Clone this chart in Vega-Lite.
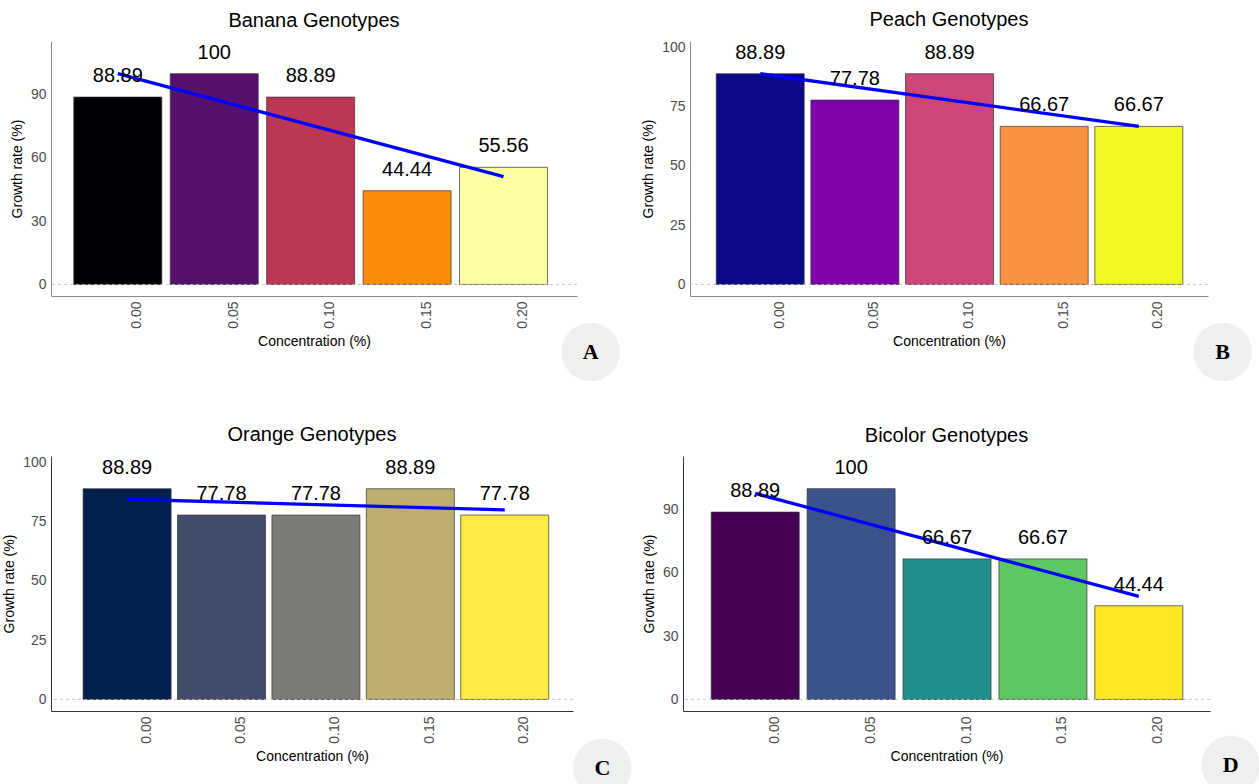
{
  "$schema": "https://vega.github.io/schema/vega-lite/v6.json",
  "autosize": {"type": "none"},
  "padding": {"left": 51, "top": 41, "right": 1208, "bottom": 743},
  "background": "white",
  "config": {
    "view": {"stroke": null},
    "font": "Liberation Sans",
    "axis": {"ticks": false, "grid": false, "labelColor": "#4D4D4D", "labelFontSize": 14, "titleFontSize": 14, "titleFontWeight": "normal", "titleColor": "black", "labelFont": "Liberation Sans", "titleFont": "Liberation Sans", "labelOverlap": false, "labelFlush": false},
    "axisY": {"labelPadding": 5, "titlePadding": 6},
    "title": {"fontSize": 20, "font": "Liberation Sans", "fontWeight": "normal", "anchor": "middle", "offset": 10, "color": "black"}
  },
  "datasets": {
    "banana": [{"conc": 0, "rate": 88.89}, {"conc": 0.05, "rate": 100}, {"conc": 0.1, "rate": 88.89}, {"conc": 0.15, "rate": 44.44}, {"conc": 0.2, "rate": 55.56}],
    "peach": [{"conc": 0, "rate": 88.89}, {"conc": 0.05, "rate": 77.78}, {"conc": 0.1, "rate": 88.89}, {"conc": 0.15, "rate": 66.67}, {"conc": 0.2, "rate": 66.67}],
    "orange": [{"conc": 0, "rate": 88.89}, {"conc": 0.05, "rate": 77.78}, {"conc": 0.1, "rate": 77.78}, {"conc": 0.15, "rate": 88.89}, {"conc": 0.2, "rate": 77.78}],
    "bicolor": [{"conc": 0, "rate": 88.89}, {"conc": 0.05, "rate": 100}, {"conc": 0.1, "rate": 66.67}, {"conc": 0.15, "rate": 66.67}, {"conc": 0.2, "rate": 44.44}]
  },
  "spacing": 415,
  "bounds": "flush",
  "resolve": {"scale": {"color": "independent"}},
  "vconcat": [
    {
      "hconcat": [
        {
          "width": 526, "height": 255,
          "title": "Banana Genotypes",
          "layer": [
            {"data": {"name": "banana"}, "mark": {"type": "bar", "size": 88, "stroke": "#333333", "strokeWidth": 0.7},
             "encoding": {
               "x": {"field": "conc", "type": "quantitative", "scale": {"domain": [-0.03204, 0.2355], "nice": false, "zero": false}, "axis": {"values": [0, 0.05, 0.1, 0.15, 0.2], "format": ".2f", "labelAngle": -90, "labelOffset": 19, "labelPadding": 5, "title": "Concentration (%)", "titlePadding": 6, "domainColor": "#8A8A8A"}},
               "y": {"field": "rate", "type": "quantitative", "scale": {"domain": [-5.5, 115.5], "nice": false}, "axis": {"values": [0, 30, 60, 90], "title": "Growth rate (%)", "domainColor": "#8A8A8A"}},
               "color": {"field": "conc", "type": "nominal", "scale": {"range": ["#000004", "#56106E", "#BB3754", "#F98C0A", "#FCFFA4"]}, "legend": null}
             }},
            {"data": {"values": [{}]}, "mark": {"type": "rule", "strokeDash": [3, 3], "color": "#BBBBBB", "strokeWidth": 0.8}, "encoding": {"y": {"datum": 0}}},
            {"data": {"name": "banana"}, "transform": [{"regression": "rate", "on": "conc"}], "mark": {"type": "line", "color": "blue", "strokeWidth": 3.3},
             "encoding": {"x": {"field": "conc", "type": "quantitative"}, "y": {"field": "rate", "type": "quantitative"}}},
            {"data": {"name": "banana"}, "mark": {"type": "text", "dy": -21, "fontSize": 20, "baseline": "middle", "color": "black"},
             "encoding": {"x": {"field": "conc", "type": "quantitative"}, "y": {"field": "rate", "type": "quantitative"}, "text": {"field": "rate", "type": "quantitative", "format": ".4~r"}}},
            {"data": {"values": [{"letter": "A"}]}, "mark": {"type": "point", "filled": true, "size": 3421, "color": "#EFEFEF", "opacity": 1},
             "encoding": {"x": {"datum": 0.2452}, "y": {"datum": -32.1}}},
            {"data": {"values": [{"letter": "A"}]}, "mark": {"type": "text", "font": "Liberation Serif", "fontWeight": "bold", "fontSize": 22, "baseline": "middle", "color": "black"},
             "encoding": {"x": {"datum": 0.2452}, "y": {"datum": -32.1}, "text": {"field": "letter"}}}
          ]
        },
        {
          "width": 518, "height": 255,
          "title": "Peach Genotypes",
          "layer": [
            {"data": {"name": "peach"}, "mark": {"type": "bar", "size": 88, "stroke": "#333333", "strokeWidth": 0.7},
             "encoding": {
               "x": {"field": "conc", "type": "quantitative", "scale": {"domain": [-0.03446, 0.2339], "nice": false, "zero": false}, "axis": {"values": [0, 0.05, 0.1, 0.15, 0.2], "format": ".2f", "labelAngle": -90, "labelOffset": 19, "labelPadding": 5, "title": "Concentration (%)", "titlePadding": 6, "domainColor": "#8A8A8A"}},
               "y": {"field": "rate", "type": "quantitative", "scale": {"domain": [-4.89, 102.7], "nice": false}, "axis": {"values": [0, 25, 50, 75, 100], "title": "Growth rate (%)", "domainColor": "#8A8A8A"}},
               "color": {"field": "conc", "type": "nominal", "scale": {"range": ["#0D0887", "#7E03A8", "#CC4678", "#F89441", "#F0F921"]}, "legend": null}
             }},
            {"data": {"values": [{}]}, "mark": {"type": "rule", "strokeDash": [3, 3], "color": "#BBBBBB", "strokeWidth": 0.8}, "encoding": {"y": {"datum": 0}}},
            {"data": {"name": "peach"}, "transform": [{"regression": "rate", "on": "conc"}], "mark": {"type": "line", "color": "blue", "strokeWidth": 3.3},
             "encoding": {"x": {"field": "conc", "type": "quantitative"}, "y": {"field": "rate", "type": "quantitative"}}},
            {"data": {"name": "peach"}, "mark": {"type": "text", "dy": -21, "fontSize": 20, "baseline": "middle", "color": "black"},
             "encoding": {"x": {"field": "conc", "type": "quantitative"}, "y": {"field": "rate", "type": "quantitative"}, "text": {"field": "rate", "type": "quantitative", "format": ".4~r"}}},
            {"data": {"values": [{"letter": "B"}]}, "mark": {"type": "point", "filled": true, "size": 3421, "color": "#EFEFEF", "opacity": 1},
             "encoding": {"x": {"datum": 0.2443}, "y": {"datum": -28.5}}},
            {"data": {"values": [{"letter": "B"}]}, "mark": {"type": "text", "font": "Liberation Serif", "fontWeight": "bold", "fontSize": 22, "baseline": "middle", "color": "black"},
             "encoding": {"x": {"datum": 0.2443}, "y": {"datum": -28.5}, "text": {"field": "letter"}}}
          ]
        }
      ],
      "spacing": 113,
      "bounds": "flush",
      "resolve": {"scale": {"color": "independent"}}
    },
    {
      "hconcat": [
        {
          "width": 522, "height": 255,
          "title": "Orange Genotypes",
          "layer": [
            {"data": {"name": "orange"}, "mark": {"type": "bar", "size": 88, "stroke": "#333333", "strokeWidth": 0.7},
             "encoding": {
               "x": {"field": "conc", "type": "quantitative", "scale": {"domain": [-0.03766, 0.2335], "nice": false, "zero": false}, "axis": {"values": [0, 0.05, 0.1, 0.15, 0.2], "format": ".2f", "labelAngle": -90, "labelOffset": 19, "labelPadding": 5, "title": "Concentration (%)", "titlePadding": 6, "domainColor": "#333333"}},
               "y": {"field": "rate", "type": "quantitative", "scale": {"domain": [-4.89, 102.7], "nice": false}, "axis": {"values": [0, 25, 50, 75, 100], "title": "Growth rate (%)", "domainColor": "#333333"}},
               "color": {"field": "conc", "type": "nominal", "scale": {"range": ["#00204D", "#414D6B", "#7C7B78", "#BCAF6F", "#FFEA46"]}, "legend": null}
             }},
            {"data": {"values": [{}]}, "mark": {"type": "rule", "strokeDash": [3, 3], "color": "#BBBBBB", "strokeWidth": 0.8}, "encoding": {"y": {"datum": 0}}},
            {"data": {"name": "orange"}, "transform": [{"regression": "rate", "on": "conc"}], "mark": {"type": "line", "color": "blue", "strokeWidth": 3.3},
             "encoding": {"x": {"field": "conc", "type": "quantitative"}, "y": {"field": "rate", "type": "quantitative"}}},
            {"data": {"name": "orange"}, "mark": {"type": "text", "dy": -21, "fontSize": 20, "baseline": "middle", "color": "black"},
             "encoding": {"x": {"field": "conc", "type": "quantitative"}, "y": {"field": "rate", "type": "quantitative"}, "text": {"field": "rate", "type": "quantitative", "format": ".4~r"}}},
            {"data": {"values": [{"letter": "C"}]}, "mark": {"type": "point", "filled": true, "size": 3421, "color": "#EFEFEF", "opacity": 1},
             "encoding": {"x": {"datum": 0.2517}, "y": {"datum": -28.9}}},
            {"data": {"values": [{"letter": "C"}]}, "mark": {"type": "text", "font": "Liberation Serif", "fontWeight": "bold", "fontSize": 22, "baseline": "middle", "color": "black"},
             "encoding": {"x": {"datum": 0.2517}, "y": {"datum": -28.9}, "text": {"field": "letter"}}}
          ]
        },
        {
          "width": 527, "height": 255,
          "title": "Bicolor Genotypes",
          "layer": [
            {"data": {"name": "bicolor"}, "mark": {"type": "bar", "size": 88, "stroke": "#333333", "strokeWidth": 0.7},
             "encoding": {
               "x": {"field": "conc", "type": "quantitative", "scale": {"domain": [-0.03504, 0.2345], "nice": false, "zero": false}, "axis": {"values": [0, 0.05, 0.1, 0.15, 0.2], "format": ".2f", "labelAngle": -90, "labelOffset": 19, "labelPadding": 5, "title": "Concentration (%)", "titlePadding": 6, "domainColor": "#333333"}},
               "y": {"field": "rate", "type": "quantitative", "scale": {"domain": [-5.5, 115.5], "nice": false}, "axis": {"values": [0, 30, 60, 90], "title": "Growth rate (%)", "domainColor": "#333333"}},
               "color": {"field": "conc", "type": "nominal", "scale": {"range": ["#440154", "#3B528B", "#21908C", "#5DC863", "#FDE725"]}, "legend": null}
             }},
            {"data": {"values": [{}]}, "mark": {"type": "rule", "strokeDash": [3, 3], "color": "#BBBBBB", "strokeWidth": 0.8}, "encoding": {"y": {"datum": 0}}},
            {"data": {"name": "bicolor"}, "transform": [{"regression": "rate", "on": "conc"}], "mark": {"type": "line", "color": "blue", "strokeWidth": 3.3},
             "encoding": {"x": {"field": "conc", "type": "quantitative"}, "y": {"field": "rate", "type": "quantitative"}}},
            {"data": {"name": "bicolor"}, "mark": {"type": "text", "dy": -21, "fontSize": 20, "baseline": "middle", "color": "black"},
             "encoding": {"x": {"field": "conc", "type": "quantitative"}, "y": {"field": "rate", "type": "quantitative"}, "text": {"field": "rate", "type": "quantitative", "format": ".4~r"}}},
            {"data": {"values": [{"letter": "D"}]}, "mark": {"type": "point", "filled": true, "size": 3421, "color": "#EFEFEF", "opacity": 1},
             "encoding": {"x": {"datum": 0.2479}, "y": {"datum": -31.1}}},
            {"data": {"values": [{"letter": "D"}]}, "mark": {"type": "text", "font": "Liberation Serif", "fontWeight": "bold", "fontSize": 22, "baseline": "middle", "color": "black"},
             "encoding": {"x": {"datum": 0.2479}, "y": {"datum": -31.1}, "text": {"field": "letter"}}}
          ]
        }
      ],
      "spacing": 110,
      "bounds": "flush",
      "resolve": {"scale": {"color": "independent"}}
    }
  ]
}
